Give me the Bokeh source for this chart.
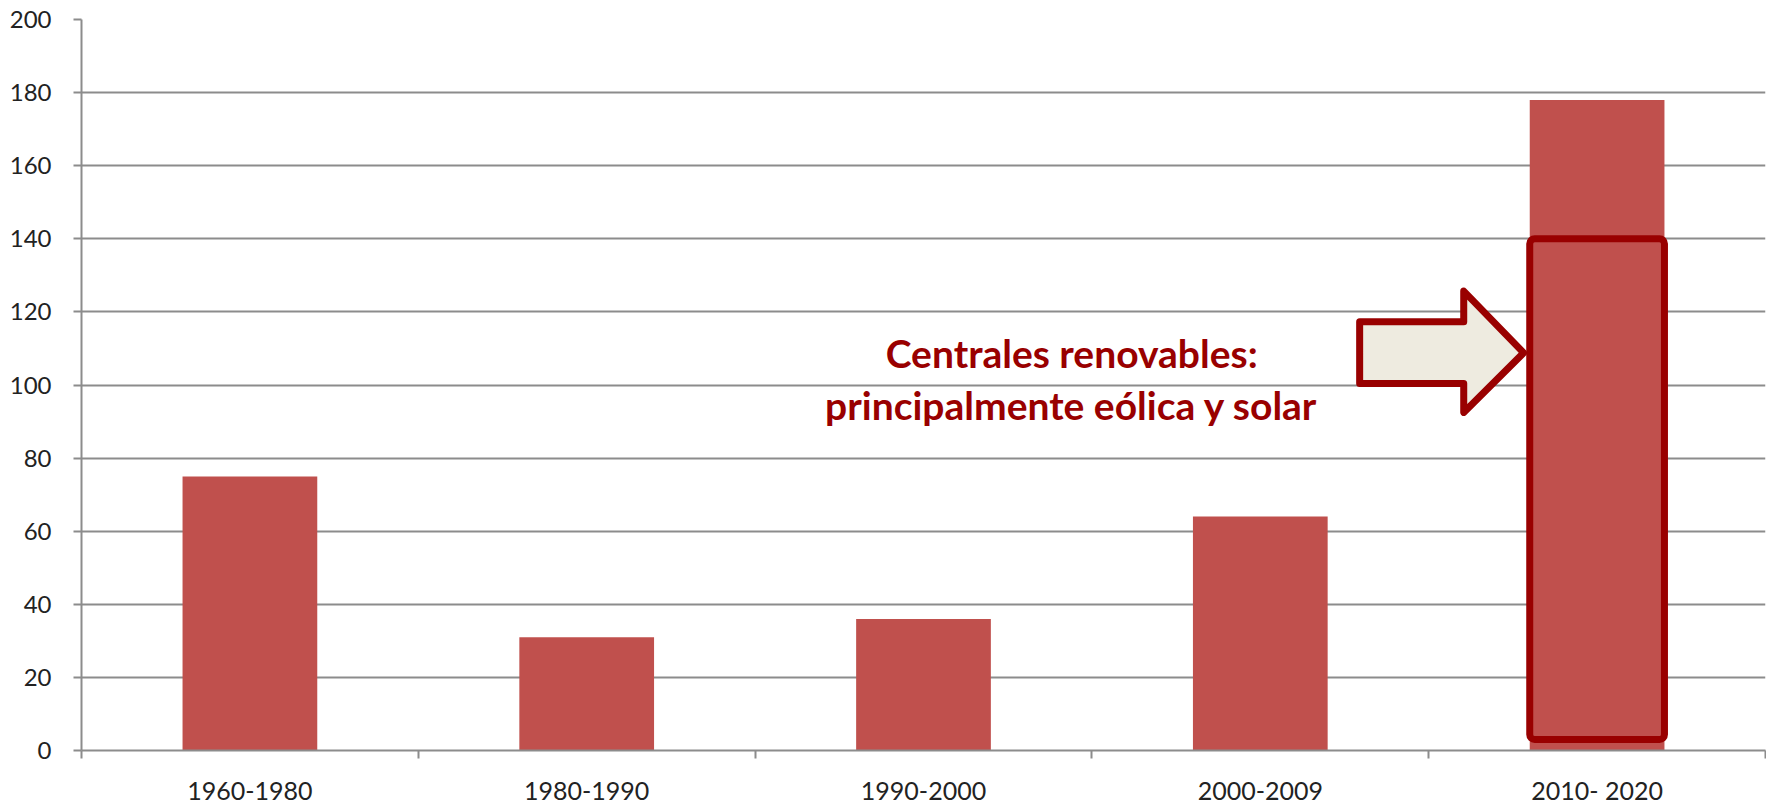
from bokeh.plotting import figure
from bokeh.models import Range1d, FixedTicker, ColumnDataSource
from bokeh.core.properties import value
from bokeh.embed import file_html
from bokeh.resources import INLINE

# ---- data ----
categories = ["1960-1980", "1980-1990", "1990-2000", "2000-2009", "2010- 2020"]
values = [75, 31, 36, 64, 178]
y_ticks = [0, 20, 40, 60, 80, 100, 120, 140, 160, 180, 200]

# annotation (data coordinates)
note_lines = ["Centrales renovables:", "principalmente eólica y solar"]
highlight_cat = 4
highlight_bottom, highlight_top = 3, 140
arrow_x = [3.795, 4.104, 4.104, 4.282, 4.104, 4.104, 3.795]
arrow_y = [117.3, 117.3, 125.7, 108.8, 92.5, 100.4, 100.4]
note_x = 2.94
note_y = [108.8, 94.4]

centers = [i + 0.5 for i in range(len(categories))]
bar_w = 0.4

FONT = "Lato"
GRID = "#8c8c8c"
DARKRED = "#990000"

p = figure(frame_width=1684, frame_height=731, output_backend="svg", toolbar_location=None,
           x_range=Range1d(0, len(categories)), y_range=Range1d(0, 200),
           min_border_left=81, min_border_right=1, min_border_top=19, min_border_bottom=0)
p.outline_line_color = None
p.background_fill_color = "white"
p.border_fill_color = "white"

src = ColumnDataSource(dict(x=centers, top=values, cat=categories))
p.vbar(x="x", top="top", width=bar_w, source=src, fill_color="#C0504D", line_color=None)

# highlight arrow and box
p.patch(arrow_x, arrow_y, fill_color="#EEEBE0", line_color=DARKRED, line_width=7, line_join="round")
hc = centers[highlight_cat]
p.quad(left=[hc - bar_w / 2], right=[hc + bar_w / 2], bottom=[highlight_bottom], top=[highlight_top],
       fill_color=None, line_color=DARKRED, line_width=7, border_radius=5)

for line, yy in zip(note_lines, note_y):
    p.text(x=[note_x], y=[yy], text=[line], text_align="center", text_baseline="alphabetic",
           text_font=value(FONT), text_font_style="bold", text_font_size="39px", text_color=DARKRED)

# axes
p.xaxis.ticker = FixedTicker(ticks=centers, minor_ticks=list(range(len(categories) + 1)))
p.xaxis.major_label_overrides = {c: lab for c, lab in zip(centers, categories)}
p.xaxis.major_tick_line_color = None
p.xaxis.major_tick_out = 0
p.xaxis.major_tick_in = 0
p.xaxis.minor_tick_line_color = GRID
p.xaxis.minor_tick_line_width = 2
p.xaxis.minor_tick_out = 8
p.xaxis.minor_tick_in = 0
p.xaxis.major_label_standoff = 16

p.yaxis.ticker = FixedTicker(ticks=y_ticks, minor_ticks=[])
p.yaxis.major_tick_out = 8
p.yaxis.major_tick_in = 0
p.yaxis.major_tick_line_color = GRID
p.yaxis.major_tick_line_width = 2
p.yaxis.major_label_standoff = 22

for ax in (p.xaxis, p.yaxis):
    ax.axis_line_color = GRID
    ax.axis_line_width = 2
    ax.major_label_text_font = FONT
    ax.major_label_text_color = "#222222"
p.xaxis.major_label_text_font_size = "25px"
p.yaxis.major_label_text_font_size = "24px"

p.xgrid.grid_line_color = None
p.ygrid.ticker = FixedTicker(ticks=y_ticks)
p.ygrid.grid_line_color = GRID
p.ygrid.grid_line_width = 2

open("out.html", "w").write(file_html(p, INLINE))
